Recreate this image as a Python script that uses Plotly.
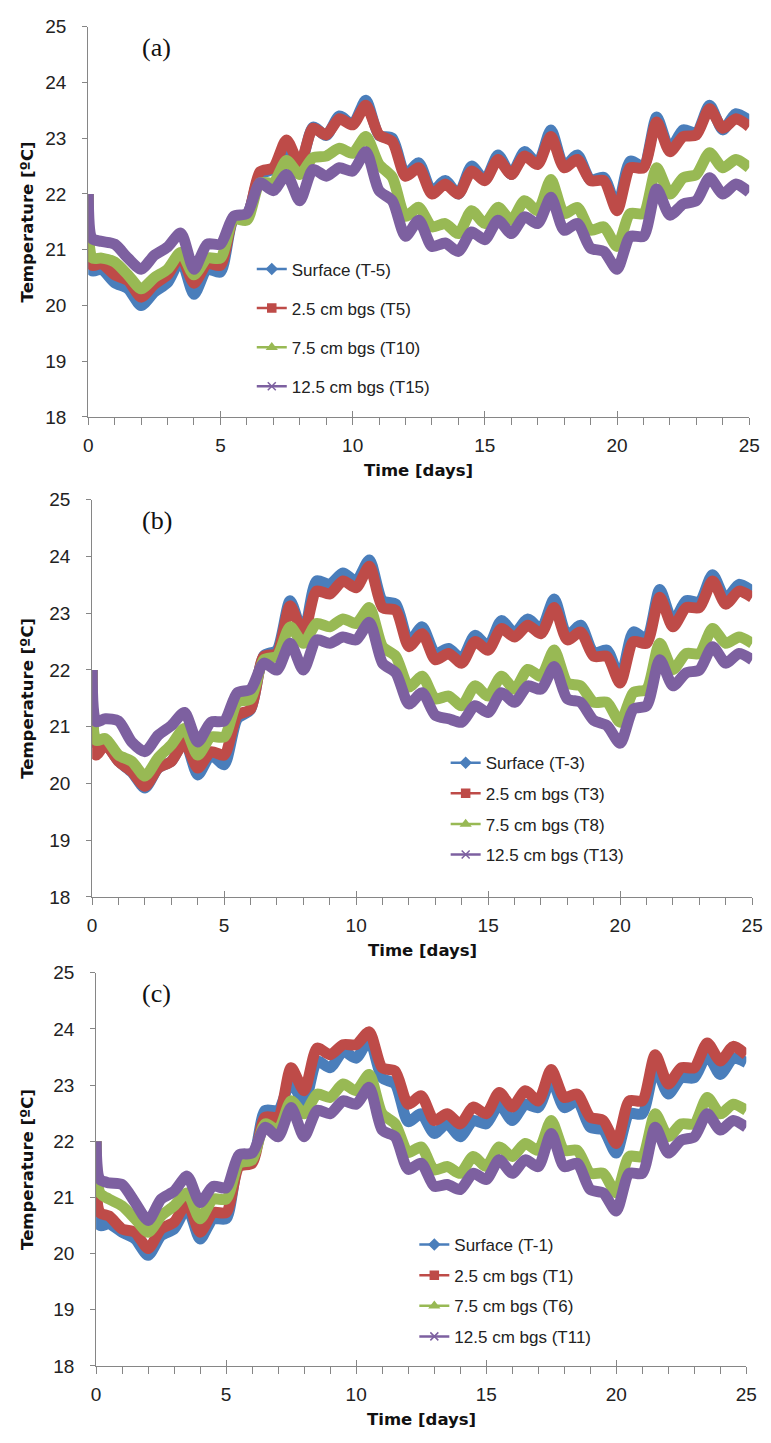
import plotly.graph_objects as go

W, H = 771, 1443

# ---------------- data ----------------
time_days = [0, 0.15, 0.5, 1.0, 1.5, 2.0, 2.5, 3.0, 3.5, 4.0, 4.5, 5.0,
             5.5, 6.0, 6.5, 7.0, 7.5, 8.0, 8.5, 9.0, 9.5, 10.0,
             10.5, 11.0, 11.5, 12.0, 12.5, 13.0, 13.5, 14.0, 14.5, 15.0,
             15.5, 16.0, 16.5, 17.0, 17.5, 18.0, 18.5, 19.0, 19.5, 20.0,
             20.5, 21.0, 21.5, 22.0, 22.5, 23.0, 23.5, 24.0, 24.5, 25.0]

# panel (a)
surface_a = [22.0, 20.62, 20.65, 20.41, 20.3, 20.0, 20.24, 20.41, 20.82, 20.2, 20.65, 20.6,
             21.55, 21.62, 22.35, 22.45, 22.85, 22.5, 23.2, 23.05, 23.4, 23.25,
             23.68, 23.05, 23.0, 22.35, 22.56, 22.05, 22.24, 22.0, 22.5, 22.25,
             22.7, 22.35, 22.76, 22.55, 23.15, 22.5, 22.7, 22.25, 22.3, 21.75,
             22.59, 22.5, 23.38, 22.8, 23.15, 23.1, 23.59, 23.15, 23.44, 23.32]
cm25_a = [22.0, 20.72, 20.75, 20.55, 20.45, 20.15, 20.38, 20.55, 20.88, 20.4, 20.75, 20.72,
          21.55, 21.6, 22.4, 22.47, 22.97, 22.53, 23.18, 23.06, 23.35, 23.24,
          23.59, 23.06, 22.94, 22.32, 22.47, 22.0, 22.18, 22.0, 22.41, 22.24,
          22.62, 22.35, 22.68, 22.53, 23.03, 22.47, 22.62, 22.24, 22.24, 21.7,
          22.47, 22.47, 23.29, 22.76, 23.03, 23.06, 23.53, 23.18, 23.35, 23.21]
cm75_a = [22.0, 20.85, 20.85, 20.78, 20.55, 20.3, 20.5, 20.65, 20.95, 20.55, 20.85, 20.85,
          21.55, 21.53, 22.2, 22.2, 22.6, 22.35, 22.65, 22.68, 22.82, 22.73,
          23.03, 22.53, 22.3, 21.6, 21.76, 21.41, 21.47, 21.29, 21.7, 21.47,
          21.76, 21.53, 21.88, 21.7, 22.26, 21.65, 21.76, 21.35, 21.41, 21.06,
          21.65, 21.65, 22.47, 22.0, 22.29, 22.35, 22.74, 22.47, 22.62, 22.47]
cm125_a = [22.0, 21.2, 21.15, 21.1, 20.85, 20.65, 20.9, 21.05, 21.3, 20.65, 21.1, 21.1,
           21.6, 21.65, 22.2, 22.06, 22.35, 21.88, 22.44, 22.32, 22.47, 22.41,
           22.76, 22.06, 21.88, 21.24, 21.53, 21.06, 21.12, 20.97, 21.32, 21.18,
           21.53, 21.29, 21.59, 21.47, 21.94, 21.35, 21.47, 21.03, 20.97, 20.65,
           21.24, 21.24, 22.09, 21.62, 21.82, 21.88, 22.29, 22.0, 22.18, 22.03]

# panel (b)
surface_b = [22.0, 20.7, 20.7, 20.39, 20.2, 19.92, 20.27, 20.39, 20.75, 20.15, 20.5, 20.33,
             21.14, 21.3, 22.25, 22.35, 23.22, 22.64, 23.57, 23.51, 23.71, 23.57,
             23.94, 23.22, 23.16, 22.5, 22.76, 22.29, 22.38, 22.2, 22.61, 22.42,
             22.87, 22.65, 22.9, 22.72, 23.25, 22.6, 22.79, 22.3, 22.35, 21.85,
             22.67, 22.55, 23.42, 22.85, 23.22, 23.2, 23.68, 23.25, 23.51, 23.39]
cm25_b = [22.0, 20.5, 20.68, 20.39, 20.21, 19.95, 20.27, 20.39, 20.73, 20.27, 20.56, 20.5,
          21.2, 21.31, 22.24, 22.29, 23.13, 22.64, 23.39, 23.34, 23.57, 23.45,
          23.83, 23.1, 23.05, 22.41, 22.64, 22.18, 22.29, 22.12, 22.5, 22.35,
          22.73, 22.58, 22.79, 22.64, 23.1, 22.53, 22.67, 22.24, 22.24, 21.77,
          22.5, 22.47, 23.28, 22.76, 23.1, 23.1, 23.57, 23.16, 23.39, 23.28]
cm75_b = [22.0, 20.76, 20.79, 20.5, 20.39, 20.13, 20.45, 20.68, 20.97, 20.5, 20.82, 20.82,
          21.43, 21.49, 22.18, 22.24, 22.76, 22.47, 22.82, 22.76, 22.9, 22.82,
          23.1, 22.41, 22.24, 21.7, 21.89, 21.49, 21.54, 21.37, 21.72, 21.54,
          21.89, 21.66, 22.01, 21.89, 22.35, 21.77, 21.72, 21.43, 21.43, 21.08,
          21.6, 21.66, 22.47, 22.01, 22.29, 22.29, 22.73, 22.47, 22.58, 22.47]
cm125_b = [22.0, 21.09, 21.14, 21.1, 20.73, 20.56, 20.85, 21.02, 21.25, 20.73, 21.08, 21.1,
           21.6, 21.66, 22.12, 22.0, 22.47, 22.0, 22.53, 22.47, 22.58, 22.53,
           22.84, 22.12, 21.95, 21.4, 21.6, 21.2, 21.14, 21.08, 21.37, 21.25,
           21.6, 21.43, 21.72, 21.66, 22.06, 21.49, 21.43, 21.11, 21.02, 20.71,
           21.31, 21.37, 22.18, 21.72, 21.95, 22.0, 22.41, 22.12, 22.29, 22.18]

# panel (c)
surface_c = [22.0, 20.5, 20.53, 20.38, 20.26, 19.97, 20.32, 20.44, 20.82, 20.26, 20.62, 20.62,
             21.6, 21.65, 22.55, 22.55, 23.07, 22.66, 23.43, 23.31, 23.6, 23.48,
             23.81, 23.13, 23.02, 22.35, 22.49, 22.14, 22.31, 22.08, 22.37, 22.31,
             22.66, 22.37, 22.66, 22.6, 23.1, 22.6, 22.72, 22.25, 22.2, 21.79,
             22.49, 22.49, 23.31, 22.84, 23.13, 23.13, 23.54, 23.19, 23.48, 23.4]
cm25_c = [22.0, 20.73, 20.67, 20.44, 20.38, 20.09, 20.44, 20.56, 20.91, 20.38, 20.73, 20.73,
          21.55, 21.61, 22.43, 22.43, 23.31, 22.9, 23.66, 23.54, 23.72, 23.72,
          23.95, 23.31, 23.25, 22.66, 22.81, 22.37, 22.49, 22.31, 22.61, 22.49,
          22.87, 22.61, 22.9, 22.72, 23.28, 22.78, 22.84, 22.43, 22.37, 21.96,
          22.72, 22.72, 23.54, 23.02, 23.31, 23.31, 23.75, 23.43, 23.69, 23.54]
cm75_c = [22.0, 21.08, 20.97, 20.85, 20.62, 20.38, 20.67, 20.85, 21.08, 20.62, 20.97, 20.97,
          21.61, 21.67, 22.31, 22.2, 22.72, 22.49, 22.84, 22.78, 23.02, 22.9,
          23.19, 22.49, 22.31, 21.8, 21.9, 21.49, 21.55, 21.43, 21.73, 21.55,
          21.9, 21.73, 21.96, 21.84, 22.37, 21.84, 21.84, 21.43, 21.43, 21.08,
          21.73, 21.73, 22.49, 22.08, 22.31, 22.31, 22.78, 22.49, 22.66, 22.55]
cm125_c = [22.0, 21.32, 21.26, 21.23, 20.91, 20.59, 20.97, 21.11, 21.38, 20.91, 21.2, 21.17,
           21.76, 21.79, 22.25, 22.08, 22.6, 22.08, 22.55, 22.49, 22.72, 22.66,
           22.96, 22.2, 22.08, 21.5, 21.61, 21.2, 21.23, 21.14, 21.43, 21.32,
           21.67, 21.43, 21.67, 21.55, 22.14, 21.55, 21.61, 21.14, 21.08, 20.76,
           21.43, 21.43, 22.25, 21.79, 22.02, 22.08, 22.49, 22.2, 22.37, 22.25]

names_a = ["Surface (T-5)", "2.5 cm bgs (T5)", "7.5 cm bgs (T10)", "12.5 cm bgs (T15)"]
names_b = ["Surface (T-3)", "2.5 cm bgs (T3)", "7.5 cm bgs (T8)", "12.5 cm bgs (T13)"]
names_c = ["Surface (T-1)", "2.5 cm bgs (T1)", "7.5 cm bgs (T6)", "12.5 cm bgs (T11)"]
panel_labels = ["(a)", "(b)", "(c)"]
x_ticks = [0, 5, 10, 15, 20, 25]
y_ticks = [18, 19, 20, 21, 22, 23, 24, 25]

# ---------------- styling ----------------
colors = ["#4A7EBB", "#BE4B48", "#98B954", "#7D60A0"]
symbols = ["diamond", "square", "triangle-up", "x-thin"]
AXIS_GREY = "#868686"
TICK_FONT = dict(family="Liberation Sans Narrow, Arial Narrow, Arial, sans-serif", size=19, color="#222222")
TITLE_FONT = dict(family="DejaVu Sans, Verdana, sans-serif", size=16.5, color="#111111")
LEG_FONT = dict(family="Liberation Sans Narrow, Arial Narrow, Arial, sans-serif", size=17, color="#222222")

def px_x(p):
    return p / W

def px_y(p):
    return 1 - p / H

# pixel geometry of the three plot areas: (left, right, top, bottom)
panels = [(85, 760, 17, 413), (89, 763, 497, 900), (93, 757, 977, 1376)]
# legend geometry: (left px, top px, gap between items)
legends = [(252, 245, 14), (450, 746, 5.5), (418, 1235, 5.5)]

series = [
    (surface_a, cm25_a, cm75_a, cm125_a, names_a),
    (surface_b, cm25_b, cm75_b, cm125_b, names_b),
    (surface_c, cm25_c, cm75_c, cm125_c, names_c),
]

fig = go.Figure()
layout = dict(width=W, height=H, margin=dict(l=0, r=0, t=0, b=0),
              paper_bgcolor="white", plot_bgcolor="white", showlegend=True)
annotations = []

for i, ((l, r, t, b), data) in enumerate(zip(panels, series)):
    n = i + 1
    xa = "x" if n == 1 else f"x{n}"
    ya = "y" if n == 1 else f"y{n}"
    leg = "legend" if n == 1 else f"legend{n}"
    vals = data[:4]
    names = data[4]
    for k in range(4):
        fig.add_trace(go.Scatter(
            x=time_days, y=vals[k], mode="lines",
            line=dict(color=colors[k], width=11, shape="spline", smoothing=0.7),
            xaxis=xa, yaxis=ya, showlegend=False, hoverinfo="skip"))
    for k in range(4):
        fig.add_trace(go.Scatter(
            x=[None], y=[None], mode="lines+markers", name=names[k],
            line=dict(color=colors[k], width=2.5),
            marker=dict(symbol=symbols[k], size=8, color=colors[k],
                        line=dict(color=colors[k], width=1.5)),
            xaxis=xa, yaxis=ya, legend=leg, legendgroup=f"g{n}{k}"))

    xdom = [px_x(l), px_x(r)]
    ydom = [px_y(b), px_y(t)]
    xkey = "xaxis" if n == 1 else f"xaxis{n}"
    ykey = "yaxis" if n == 1 else f"yaxis{n}"
    layout[xkey] = dict(domain=xdom, anchor=ya, range=[0, 25], tickvals=x_ticks,
                        ticks="outside", ticklen=7, tickcolor=AXIS_GREY, tickwidth=1,
                        showline=True, linecolor=AXIS_GREY, linewidth=1,
                        showgrid=False, zeroline=False, tickfont=TICK_FONT,
                        ticklabelstandoff=4,
                        minor=dict(dtick=1, ticks="outside", ticklen=7,
                                   tickcolor=AXIS_GREY, showgrid=False))
    layout[ykey] = dict(domain=ydom, anchor=xa, range=[18, 25], tickvals=y_ticks,
                        ticks="outside", ticklen=5, tickcolor=AXIS_GREY, tickwidth=1,
                        showline=True, linecolor=AXIS_GREY, linewidth=1,
                        showgrid=False, zeroline=False, tickfont=TICK_FONT,
                        ticklabelstandoff=12)
    # overlay axis to give the major x ticks their inner half
    ox = 3 + n
    layout[f"xaxis{ox}"] = dict(domain=xdom, anchor=ya, overlaying=xa, range=[0, 25],
                                tickvals=x_ticks, ticks="inside", ticklen=6,
                                tickcolor=AXIS_GREY, showticklabels=False,
                                showline=False, showgrid=False, zeroline=False)
    fig.add_trace(go.Scatter(x=[None], y=[None], xaxis=f"x{ox}", yaxis=ya,
                             showlegend=False, hoverinfo="skip"))

    lx, ly, gap = legends[i]
    layout[leg] = dict(x=px_x(lx), y=px_y(ly), xanchor="left", yanchor="top",
                       bgcolor="rgba(0,0,0,0)", font=LEG_FONT, tracegroupgap=gap,
                       traceorder="grouped", itemwidth=30)

    # axis titles and panel label
    annotations.append(dict(text="<b>Time [days]</b>", x=px_x((l + r) / 2),
                            y=px_y(b + 54), xref="paper", yref="paper",
                            showarrow=False, font=TITLE_FONT, xanchor="center",
                            yanchor="middle"))
    annotations.append(dict(text="<b>Temperature [ºC]</b>", x=px_x(23),
                            y=px_y((t + b) / 2), xref="paper", yref="paper",
                            showarrow=False, font=TITLE_FONT, textangle=-90,
                            xanchor="center", yanchor="middle"))
    annotations.append(dict(text=panel_labels[i], x=px_x(155), y=px_y(t + 21),
                            xref="paper", yref="paper", showarrow=False,
                            font=dict(family="Liberation Serif, Times New Roman, serif",
                                      size=26, color="#111111"),
                            xanchor="center", yanchor="middle"))

layout["annotations"] = annotations
fig.update_layout(**layout)
fig.write_html("out.html")
